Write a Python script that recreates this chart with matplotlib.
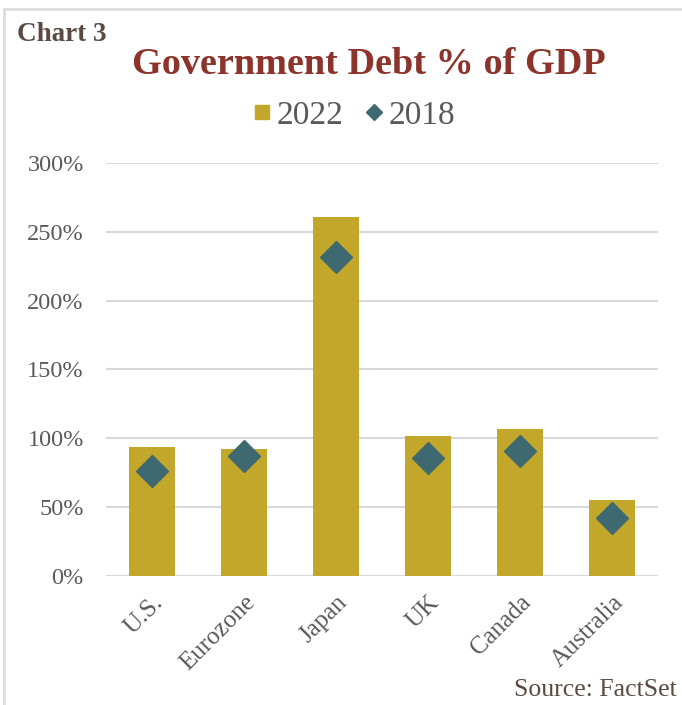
import matplotlib
matplotlib.use("Agg")
import matplotlib.pyplot as plt
from matplotlib.lines import Line2D

# Government debt as % of GDP
countries = ["U.S.", "Eurozone", "Japan", "UK", "Canada", "Australia"]
debt_2022 = [94, 92.5, 261, 102, 106.5, 55.5]
debt_2018 = [76, 87.5, 232, 85.5, 91, 42]
y_ticks = [0, 50, 100, 150, 200, 250, 300]
y_labels = ["0%", "50%", "100%", "150%", "200%", "250%", "300%"]

BAR = "#C3A72B"
DIAMOND = "#3E6970"
TXT = "#595959"
TITLE = "#8C342B"
BROWN = "#5B4A42"
SERIF = ["Liberation Serif", "DejaVu Serif"]

fig = plt.figure(figsize=(6.82, 7.05), dpi=100)
ax = fig.add_axes([0.1554, 0.183, 0.8094, 0.5858])

x = range(len(countries))
ax.bar(x, debt_2022, width=0.5, color=BAR, zorder=2, label="2022")
ax.plot(x, debt_2018, linestyle="none", marker="D", markersize=16,
        color=DIAMOND, zorder=3, label="2018")

ax.set_xlim(-0.5, len(countries) - 0.5)
ax.set_ylim(0, 300)
ax.set_yticks(y_ticks)
ax.set_yticklabels(y_labels, fontsize=17.5, color=TXT, family=SERIF)
ax.set_xticks(list(x))
ax.set_xticklabels(countries, fontsize=18, color=TXT, family=SERIF,
                   rotation=45, ha="right", va="top", rotation_mode="anchor")
ax.tick_params(axis="both", length=0)
ax.tick_params(axis="y", pad=16)
ax.tick_params(axis="x", pad=11)
ax.grid(axis="y", color="#D9D9D9", linewidth=1.5, zorder=0)
for s in ax.spines.values():
    s.set_visible(False)

# Legend
leg = fig.legend(
    handles=[Line2D([], [], marker="s", linestyle="none", color=BAR, markersize=10.5),
             Line2D([], [], marker="D", linestyle="none", color=DIAMOND, markersize=8.5)],
    labels=["2022", "2018"], loc="center", bbox_to_anchor=(0.517, 0.836),
    ncol=2, frameon=False, handletextpad=0.1, columnspacing=0.55,
    prop={"family": SERIF, "size": 24}, handlelength=0.7)
for t in leg.get_texts():
    t.set_color(TXT)

fig.text(0.025, 0.951, "Chart 3", fontsize=19.5, fontweight="bold", color=BROWN,
         family=SERIF, va="center", ha="left")
fig.text(0.541, 0.909, "Government Debt % of GDP", fontsize=27.5, fontweight="bold",
         color=TITLE, family=SERIF, va="center", ha="center")
fig.text(0.992, 0.021, "Source: FactSet", fontsize=18.5, color=BROWN,
         family=SERIF, ha="right", va="center")

# Panel frame
fig.add_artist(Line2D([0.006, 0.006], [0, 0.987], transform=fig.transFigure,
                      color="#DCDCDC", linewidth=2))
fig.add_artist(Line2D([0.006, 1], [0.987, 0.987], transform=fig.transFigure,
                      color="#DCDCDC", linewidth=2))

fig.savefig("out.png", dpi=100, facecolor="white")
